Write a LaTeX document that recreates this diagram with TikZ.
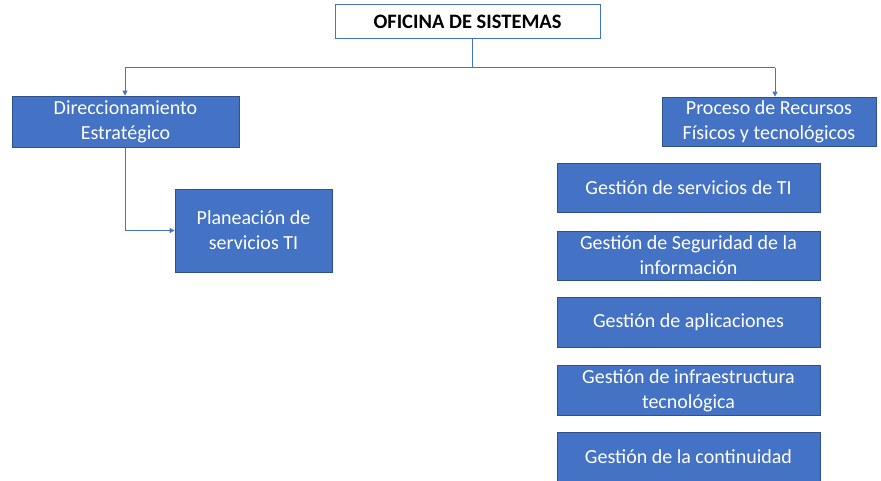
\documentclass[tikz,border=0pt]{standalone}
\usepackage{fontspec}
\setmainfont{Carlito}
\usetikzlibrary{arrows.meta}
\definecolor{boxblue}{HTML}{4472C4}
\definecolor{boxedge}{HTML}{2F528F}
\begin{document}
\begin{tikzpicture}[x=1pt,y=-1pt,
  bluebox/.style={draw=boxedge,fill=boxblue,line width=0.8pt,text=white,align=center,
    inner sep=0pt,font=\fontsize{20}{25}\selectfont},
  conn/.style={draw=boxblue,line width=1pt},
  arr/.style={conn,-{Triangle[length=5pt,width=5pt]}}]
\useasboundingbox (0,0) rectangle (881,481);
\node[draw=boxblue,fill=white,line width=1pt,minimum width=265pt,minimum height=34pt,inner sep=0pt,
  font=\fontsize{20.5}{24}\selectfont\bfseries] (top) at (467.5,22) {OFICINA DE SISTEMAS};
\node[bluebox,minimum width=227pt,minimum height=51pt] (dir) at (125.5,121.5) {Direccionamiento\\Estratégico};
\node[bluebox,minimum width=157pt,minimum height=83pt] (plan) at (253.5,230.5) {Planeación de\\servicios TI};
\node[bluebox,minimum width=214pt,minimum height=49pt] (proc) at (769,121.5) {Proceso de Recursos\\Físicos y tecnológicos};
\node[bluebox,minimum width=263pt,minimum height=49pt] (g1) at (688.5,187.5) {Gestión de servicios de TI};
\node[bluebox,minimum width=263pt,minimum height=49pt] (g2) at (688.5,255.5) {Gestión de Seguridad de la\\información};
\node[bluebox,minimum width=263pt,minimum height=50pt] (g3) at (688.5,322.5) {Gestión de aplicaciones};
\node[bluebox,minimum width=263pt,minimum height=50pt] (g4) at (688.5,390.5) {Gestión de infraestructura\\tecnológica};
\node[bluebox,minimum width=263pt,minimum height=49pt] (g5) at (688.5,456.5) {Gestión de la continuidad};
\coordinate (j) at (472,68);
\coordinate (lt) at (125,68);
\coordinate (rt) at (775,68);
\draw[conn] (j |- top.south) -- (j);
\draw[conn] (lt) -- (rt);
\draw[arr] (lt) -- (lt |- dir.north);
\draw[arr] (rt) -- (rt |- proc.north);
\draw[arr] (lt |- dir.south) |- (plan.west);
\end{tikzpicture}
\end{document}
